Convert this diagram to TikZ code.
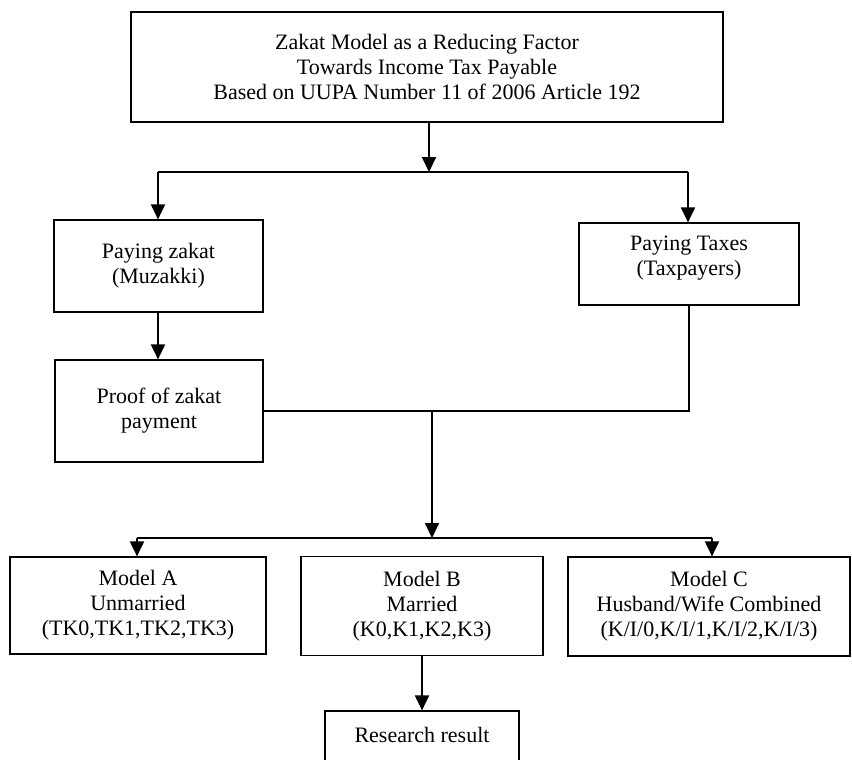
\documentclass[tikz,border=0pt]{standalone}
\usepackage{fontspec}
\setmainfont{Liberation Serif}
\usetikzlibrary{arrows.meta}
\begin{document}
\begin{tikzpicture}[x=0.5pt,y=-0.5pt,
  box/.style={draw, line width=0.6pt, rectangle, inner sep=0pt, align=center,
              font=\fontsize{11}{12.5}\selectfont},
  lbl/.style={inner sep=0pt, align=center, font=\fontsize{11}{12.5}\selectfont},
  conn/.style={line width=1pt},
  arr/.style={conn, -{Triangle[width=7pt,length=7.5pt]}}]
\useasboundingbox (0,0) rectangle (852,760);
% boxes
\node[box, minimum width=296pt, minimum height=55pt] (top) at (427,67)
  {Zakat Model as a Reducing Factor\\Towards Income Tax Payable\\Based on UUPA Number 11 of 2006 Article 192};
\node[box, minimum width=104.5pt, minimum height=46pt] (zak) at (158.5,266)
  {Paying zakat\\(Muzakki)};
\node[box, minimum width=110pt, minimum height=41pt] (tax) at (689,264) {};
\node[lbl] (taxt) at (689,258.5) {Paying Taxes\\(Taxpayers)};
\node[box, minimum width=104pt, minimum height=51pt] (proof) at (159,411)
  {Proof of zakat\\payment};
\node[box, minimum width=128pt, minimum height=48.5pt] (ma) at (138,605.5)
  {Model A\\Unmarried\\(TK0,TK1,TK2,TK3)};
\node[box, minimum width=121pt, minimum height=49.5pt] (mb) at (422,606)
  {Model B\\Married\\(K0,K1,K2,K3)};
\node[box, minimum width=141pt, minimum height=49.5pt] (mc) at (709,606.5)
  {Model C\\Husband/Wife Combined\\(K/I/0,K/I/1,K/I/2,K/I/3)};
\node[box, minimum width=97pt, minimum height=29pt] (res) at (422,740) {};
\node[lbl] (rest) at (422,735) {Research result};
% junctions
\coordinate (j1) at (429,172);
\coordinate (jl) at (158,172);
\coordinate (jr) at (688,172);
\coordinate (m) at (432,411);
\coordinate (j2) at (432,538);
\coordinate (ja) at (137,538);
\coordinate (jc) at (712,538);
% connectors
\draw[arr] (top.south -| j1) -- (j1);
\draw[conn] (jl) -- (jr);
\draw[arr] (jl) -- (zak.north -| jl);
\draw[arr] (jr) -- (tax.north -| jr);
\draw[arr] (zak.south -| jl) -- (proof.north -| jl);
\draw[conn] (proof.east) -- (tax.south |- proof.east) -- (tax.south);
\draw[arr] (m) -- (j2);
\draw[conn] (ja) -- (jc);
\draw[arr] (ja) -- (ma.north -| ja);
\draw[arr] (jc) -- (mc.north -| jc);
\draw[arr] (mb.south) -- (res.north);
\end{tikzpicture}
\end{document}
